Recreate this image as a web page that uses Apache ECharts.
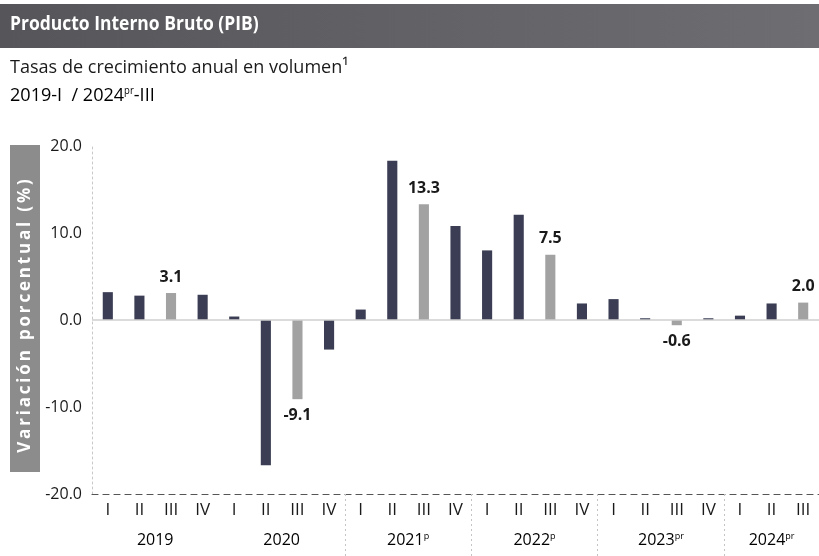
<!DOCTYPE html>
<html><head><meta charset="utf-8">
<script src="https://cdn.jsdelivr.net/npm/echarts@6/dist/echarts.min.js"></script>
<style>html,body{margin:0;padding:0;background:#fff}#c{width:819px;height:556px}</style>
</head><body><div id="c"></div>
<script>
const quarters = ['I','II','III','IV','I','II','III','IV','I','II','III','IV','I','II','III','IV','I','II','III','IV','I','II','III'];
const quarterYear = [0,0,0,0,1,1,1,1,2,2,2,2,3,3,3,3,4,4,4,4,5,5,5];
const years = ['2019','2020','2021','2022','2023','2024'];
const yearSup = ['','','p','p','pr','pr'];
const values = [3.2,2.8,3.1,2.9,0.4,-16.7,-9.1,-3.4,1.2,18.3,13.3,10.8,8.0,12.1,7.5,1.9,2.4,0.2,-0.6,0.2,0.5,1.9,2.0];
const yTicks = [-20,-10,0,10,20];

const FONT = '"Open Sans",sans-serif';
const chart = echarts.init(document.getElementById('c'));

const data = values.map((v,i)=>{
  const hl = quarters[i]==='III';
  return {
    value: v,
    itemStyle: {color: hl ? '#a2a2a2' : '#3a3d53'},
    label: {show: hl, position: v>=0 ? 'top' : 'bottom', distance: 8,
      formatter: (p)=>p.value.toFixed(1), color:'#1a1a1a', fontWeight:'bold', fontSize:16, fontFamily: FONT}
  };
});

const sepIdx = [8,12,16,20];
const yName = 'Variación porcentual (%)'.split('').join('\u2009');

chart.setOption({
  animation:false,
  grid:{left:92,right:0,top:146,bottom:62,containLabel:false},
  xAxis:{type:'category',data:quarters,boundaryGap:true,
    axisLine:{show:true,onZero:false,lineStyle:{color:'#555',type:[6,5],width:1.2}},
    axisTick:{show:true,length:62,interval:(i)=>sepIdx.includes(i),lineStyle:{color:'#c4c4c4',type:[2,3],width:1}},
    axisLabel:{interval:0,margin:8,color:'#1a1a1a',fontSize:17,fontFamily:FONT}},
  yAxis:{type:'value',min:yTicks[0],max:yTicks[yTicks.length-1],interval:10,
    axisLine:{show:true,lineStyle:{color:'#c8c8c8',type:[2,3]}},
    axisTick:{show:false},splitLine:{show:false},
    axisLabel:{formatter:(v)=>v.toFixed(1),color:'#1a1a1a',fontSize:16,margin:10,fontFamily:FONT}},
  series:[{type:'bar',data:data,barWidth:'32%',
    markLine:{silent:true,symbol:'none',label:{show:false},lineStyle:{color:'#cfcfcf',type:'solid',width:1.5},data:[{yAxis:0}]}}],
  graphic:[
    {type:'rect',shape:{x:0,y:4,width:819,height:44},style:{fill:new echarts.graphic.LinearGradient(0,0,1,0,[{offset:0,color:'#55555a'},{offset:1,color:'#6e6e72'}])}},
    {type:'text',x:10,y:15,scaleX:0.92,style:{text:'Producto Interno Bruto (PIB)',fill:'#fff',font:'bold 19px '+FONT}},
    {type:'text',x:10,y:58,scaleX:0.95,style:{text:'Tasas de crecimiento anual en volumen¹',fill:'#1a1a1a',font:'19px '+FONT}},
    {type:'text',x:10,y:86,scaleX:0.95,style:{text:'{a|2019-I  / 2024}{s|pr}{a|-III}',rich:{a:{fontSize:19,fontFamily:FONT,color:'#1a1a1a'},s:{fontSize:10,fontFamily:FONT,color:'#1a1a1a',verticalAlign:'top',padding:[0,0,8,0]}}}},
    {type:'rect',shape:{x:10,y:145,width:30,height:327},style:{fill:'#8c8c8c'}},
    {type:'text',x:25,y:316,rotation:Math.PI/2,style:{text:yName,fill:'#fff',font:'bold 17px '+FONT,align:'center',verticalAlign:'middle'}}
  ]
});

// year labels centered under each year's quarters, positioned via the axis scale
const yearG = years.map((y,k)=>{
  const idx = quarterYear.map((q,i)=>q===k?i:-1).filter(i=>i>=0);
  const xs = idx.map(i=>chart.convertToPixel({xAxisIndex:0},i));
  const cx = xs.reduce((a,b)=>a+b,0)/xs.length;
  const txt = yearSup[k] ? '{a|'+y+'}{s|'+yearSup[k]+'}' : '{a|'+y+'}';
  return {type:'text',x:cx,y:540,style:{text:txt,align:'center',verticalAlign:'middle',
    rich:{a:{fontSize:16,fontFamily:FONT,color:'#1a1a1a'},s:{fontSize:9,fontFamily:FONT,color:'#1a1a1a',verticalAlign:'top',padding:[0,0,8,0]}}}};
});
chart.setOption({graphic: chart.getOption().graphic[0].elements.concat(yearG)});
</script></body></html>
